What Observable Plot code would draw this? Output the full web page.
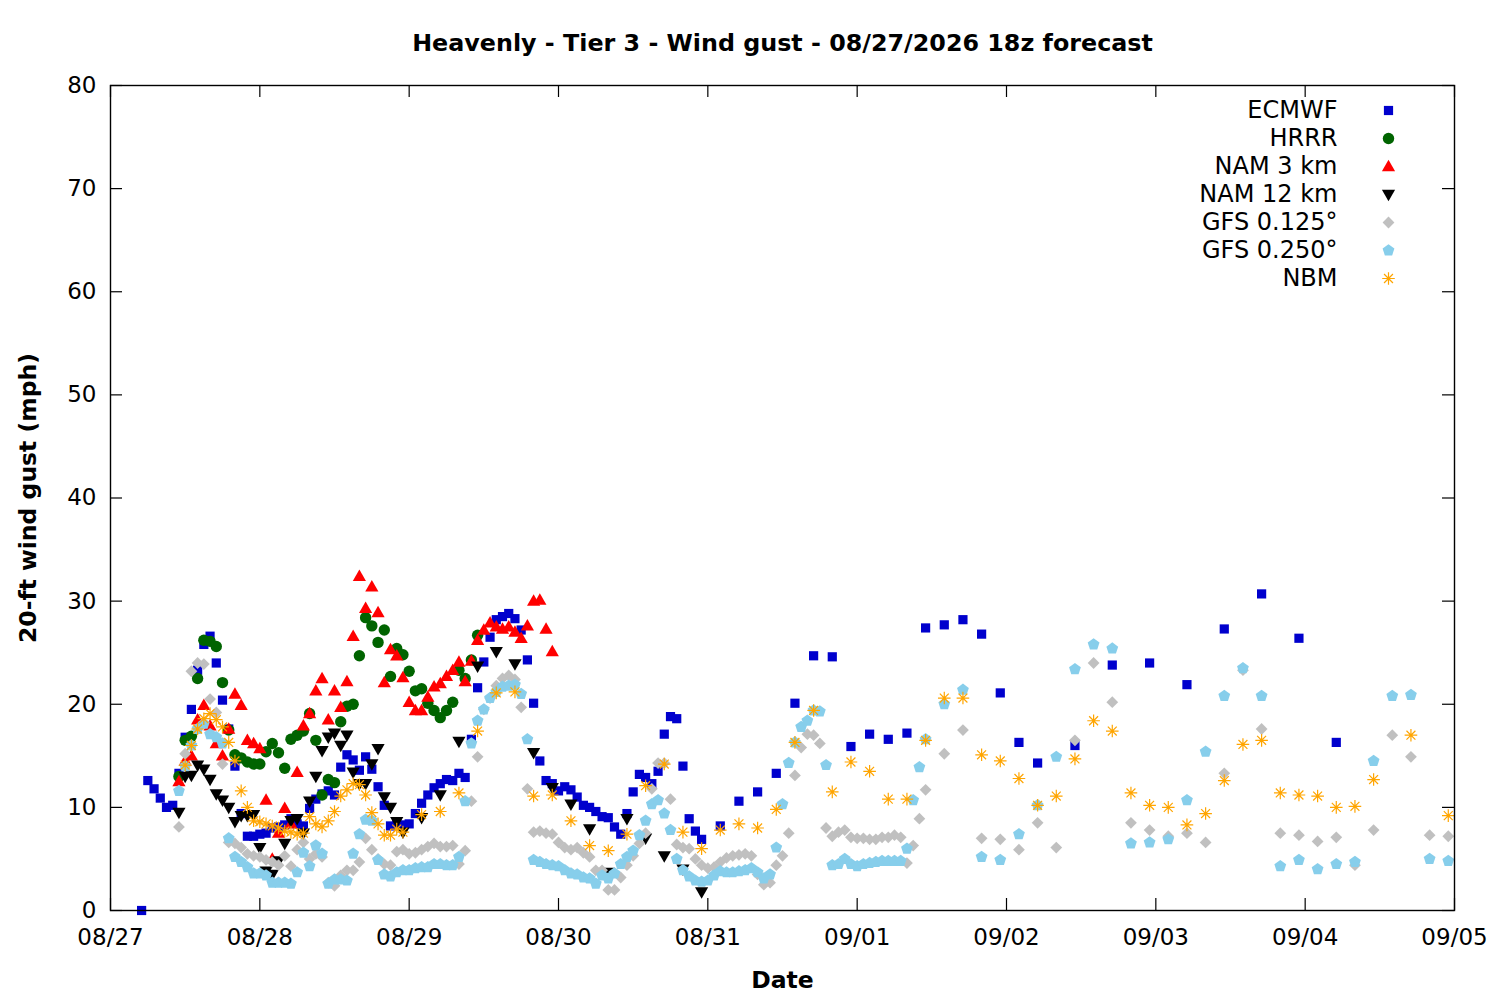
<!DOCTYPE html>
<html><head><meta charset="utf-8">
<script src="https://cdn.jsdelivr.net/npm/d3@7"></script>
<script src="https://cdn.jsdelivr.net/npm/@observablehq/plot@0.6"></script>
<style>body{margin:0;background:#fff;} #chart svg{display:block;}</style>
</head><body><div id="chart"></div>
<script>
// ---- data (hours after 08/27 00:00, gust in mph) ----
const ecmwfHours = [5,6,7,8,9,10,11,12,13,14,15,16,17,18,19,20,21,22,23,24,25,26,27,28,29,30,31,32,33,34,35,36,37,38,39,40,41,42,43,44,45,46,47,48,49,50,51,52,53,54,55,56,57,58,59,60,61,62,63,64,65,66,67,68,69,70,71,72,73,74,75,76,77,78,79,80,81,82,83,84,85,86,87,88,89,90,91,92,93,94,95,98,101,104,107,110,113,116,119,122,125,128,131,134,137,140,143,146,149,155,161,167,173,179,185,191,197];
const ecmwfGust = [0,12.6,11.8,10.9,10.0,10.2,13.3,16.8,19.5,23.3,25.8,26.6,24.0,20.4,17.6,14.0,9.4,7.2,7.2,7.4,7.5,8.0,8.1,8.3,8.9,8.4,8.2,9.9,10.8,11.3,11.6,11.2,13.9,15.1,14.6,13.6,14.9,13.7,12.0,10.2,8.2,8.4,8.3,8.4,9.4,10.4,11.2,11.9,12.3,12.7,12.6,13.3,12.9,16.6,21.6,24.1,26.5,28.2,28.5,28.8,28.3,27.2,24.3,20.1,14.5,12.6,12.3,11.6,12.0,11.7,11.0,10.2,10.0,9.6,9.1,9.0,8.1,7.4,9.4,11.5,13.2,12.9,12.3,13.5,17.1,18.8,18.6,14.0,8.9,7.7,6.9,8.2,10.6,11.5,13.3,20.1,24.7,24.6,15.9,17.1,16.6,17.2,27.4,27.7,28.2,26.8,21.1,16.3,14.3,16.0,23.8,24.0,21.9,27.3,30.7,26.4,16.3];

const hrrrHours = [11,12,13,14,15,16,17,18,19,20,21,22,23,24,25,26,27,28,29,30,31,32,33,34,35,36,37,38,39,40,41,42,43,44,45,46,47,48,49,50,51,52,53,54,55,56,57,58,59];
const hrrrGust = [13.0,16.5,16.9,22.5,26.2,26.1,25.6,22.1,17.5,15.1,14.8,14.4,14.2,14.2,15.4,16.2,15.3,13.8,16.6,17.0,17.4,19.1,16.5,11.2,12.7,12.4,18.3,19.8,20.0,24.7,28.4,27.6,26.0,27.2,22.7,25.4,24.8,23.2,21.3,21.5,20.1,19.4,18.7,19.4,20.2,23.3,22.5,24.3,26.7];

const nam3Hours = [11,12,13,14,15,16,17,18,19,20,21,22,23,24,25,26,27,28,29,30,31,32,33,34,35,36,37,38,39,40,41,42,43,44,45,46,47,48,49,50,51,52,53,54,55,56,57,58,59,60,61,62,63,64,65,66,67,68,69,70,71];
const nam3Gust = [12.5,14.5,15.0,18.5,19.9,17.9,16.2,15.0,17.6,21.0,19.9,16.5,16.2,15.7,10.7,5.0,7.5,9.9,8.4,13.4,17.9,19.1,21.3,22.5,18.5,21.3,19.7,22.2,26.6,32.4,29.3,31.4,28.9,22.1,25.3,24.7,22.6,20.2,19.4,19.4,20.7,21.7,22.0,22.7,23.3,24.1,22.2,24.2,26.2,27.2,27.9,27.5,27.3,27.5,27.0,26.4,27.6,30.0,30.1,27.3,25.1];

const nam12Hours = [11,12,13,14,15,16,17,18,19,20,21,22,23,24,25,26,27,28,29,30,31,32,33,34,35,36,37,38,39,40,41,42,43,44,45,46,47,50,53,56,59,62,65,68,71,74,77,80,83,86,89,92,95];
const nam12Gust = [9.5,13.0,13.1,14.1,13.7,12.7,11.3,10.7,10.0,8.6,9.2,9.2,9.3,6.1,3.8,3.5,4.8,6.5,8.7,8.9,7.5,10.6,13.0,15.5,16.8,17.2,16.0,17.0,13.4,12.3,12.3,14.2,15.7,11.0,10.0,8.6,7.6,9.0,11.2,16.4,23.7,25.1,23.9,15.3,11.9,10.3,7.9,3.7,8.9,7.0,5.3,4.0,1.8];

const gfs125Hours = [11,12,13,14,15,16,17,18,19,20,21,22,23,24,25,26,27,28,29,30,31,32,33,34,35,36,37,38,39,40,41,42,43,44,45,46,47,48,49,50,51,52,53,54,55,56,57,58,59,60,61,62,63,64,65,66,67,68,69,70,71,72,73,74,75,76,77,78,79,80,81,82,83,84,85,86,87,88,89,90,91,92,93,94,95,96,97,98,99,100,101,102,103,104,105,106,107,108,109,110,111,112,113,114,115,116,117,118,119,120,121,122,123,124,125,126,127,128,129,130,131,134,137,140,143,146,149,152,155,158,161,164,167,170,173,176,179,182,185,188,191,194,197,200,203,206,209,212,215];
const gfs125Gust = [8.1,15.2,23.2,24.0,23.9,20.5,19.2,14.2,6.6,6.5,6.1,5.5,5.3,5.2,4.9,4.7,4.4,5.3,4.3,5.9,6.6,5.0,5.5,5.2,2.7,2.4,3.4,3.9,3.9,4.7,7.0,5.9,5.0,4.5,4.4,5.7,5.9,5.5,5.6,5.9,6.2,6.5,6.2,6.2,6.3,4.5,5.8,10.6,14.9,19.5,20.6,21.8,22.5,22.8,22.4,19.7,11.8,7.6,7.7,7.5,7.4,6.6,6.1,5.9,6.1,5.6,5.2,3.9,3.9,2.0,2.0,3.2,4.4,5.3,6.5,7.5,11.8,14.3,14.3,10.8,6.4,6.1,6.0,5.0,4.4,4.1,4.2,4.7,5.1,5.3,5.4,5.5,5.3,3.5,2.5,2.7,4.4,5.3,7.5,13.1,15.8,17.1,17.0,16.2,8.0,7.2,7.6,7.8,7.1,7.0,7.0,6.9,6.9,7.1,7.1,7.3,7.1,4.6,6.3,8.9,11.7,15.2,17.5,7.0,6.9,5.9,8.5,6.1,16.5,24.0,20.2,8.5,7.8,7.2,7.5,6.6,13.3,23.3,17.6,7.5,7.3,6.7,7.1,4.4,7.8,17.0,14.9,7.3,7.2];

const gfs250Hours = [11,12,13,14,15,16,17,18,19,20,21,22,23,24,25,26,27,28,29,30,31,32,33,34,35,36,37,38,39,40,41,42,43,44,45,46,47,48,49,50,51,52,53,54,55,56,57,58,59,60,61,62,63,64,65,66,67,68,69,70,71,72,73,74,75,76,77,78,79,80,81,82,83,84,85,86,87,88,89,90,91,92,93,94,95,96,97,98,99,100,101,102,103,104,105,106,107,108,109,110,111,112,113,114,115,116,117,118,119,120,121,122,123,124,125,126,127,128,129,130,131,134,137,140,143,146,149,152,155,158,161,164,167,170,173,176,179,182,185,188,191,194,197,200,203,206,209,212,215];
const gfs250Gust = [11.6,14.0,16.0,17.6,18.1,17.1,16.8,16.2,7.0,5.2,4.7,4.2,3.6,3.6,3.4,2.7,2.7,2.7,2.6,3.7,5.6,4.3,6.3,5.5,2.6,3.0,3.0,2.9,5.5,7.4,8.8,8.7,4.9,3.5,3.3,3.7,3.9,3.9,4.1,4.2,4.2,4.5,4.5,4.4,4.4,5.2,10.6,16.2,18.4,19.5,20.6,21.2,21.7,21.8,21.9,21.0,16.6,4.9,4.7,4.5,4.4,4.3,3.9,3.6,3.5,3.2,3.1,2.6,3.4,3.1,3.6,4.5,5.2,5.8,7.3,8.7,10.3,10.7,9.4,7.8,5.0,3.9,3.3,2.9,2.8,2.9,3.4,3.8,3.7,3.7,3.8,3.9,4.1,3.7,3.1,3.5,6.1,10.3,14.3,16.3,17.8,18.4,19.4,19.3,14.1,4.4,4.5,5.0,4.5,4.3,4.5,4.6,4.7,4.8,4.8,4.8,4.8,6.0,10.7,13.9,16.6,20.0,21.4,5.2,4.9,7.4,10.2,14.9,23.4,25.8,25.4,6.5,6.6,6.9,10.7,15.4,20.8,23.5,20.8,4.3,4.9,4.0,4.5,4.7,14.5,20.8,20.9,5.0,4.8];

const nbmHours = [12,13,14,15,16,17,18,19,20,21,22,23,24,25,26,27,28,29,30,31,32,33,34,35,36,37,38,39,40,41,42,43,44,45,46,47,50,53,56,59,62,65,68,71,74,77,80,83,86,89,92,95,98,101,104,107,110,113,116,119,122,125,128,131,134,137,140,143,146,149,152,155,158,161,164,167,170,173,176,179,182,185,188,191,194,197,200,203,209,215];
const nbmGust = [14.1,16.0,17.6,18.6,19.1,18.5,17.8,16.3,14.5,11.6,10.0,8.7,8.6,8.4,8.2,8.0,7.7,7.6,7.4,7.5,9.1,8.4,8.1,8.7,9.6,11.1,11.7,12.3,12.2,11.2,9.5,8.4,7.3,7.3,7.9,7.6,9.3,9.6,11.4,17.4,21.1,21.2,11.1,11.2,8.7,6.3,5.8,7.4,12.1,14.2,7.6,6.0,7.8,8.4,8.0,9.8,16.3,19.4,11.5,14.4,13.5,10.8,10.8,16.5,20.6,20.6,15.1,14.5,12.8,10.2,11.1,14.7,18.4,17.4,11.4,10.2,10.0,8.3,9.4,12.6,16.1,16.5,11.4,11.2,11.1,10.0,10.1,12.7,17.0,9.2];

const seriesNames = ["ECMWF","HRRR","NAM 3 km","NAM 12 km","GFS 0.125°","GFS 0.250°","NBM"];
const dayTicks = ["08/27","08/28","08/29","08/30","08/31","09/01","09/02","09/03","09/04","09/05"];
const yTicks = [0,10,20,30,40,50,60,70,80];
const titleText = "Heavenly - Tier 3 - Wind gust - 08/27/2026 18z forecast";

// ---- helpers ----
const t0 = Date.UTC(2026,7,27);
const toDate = h => new Date(t0 + h*3600e3);
const dayDates = dayTicks.map(s => { const [m,d] = s.split("/").map(Number); return new Date(Date.UTC(2026, m-1, d)); });

const poly = pts => ({draw(c){ c.moveTo(pts[0][0], pts[0][1]); for (let i=1;i<pts.length;i++) c.lineTo(pts[i][0], pts[i][1]); c.closePath(); }});
const squareSym = {draw(c){ c.rect(-4.6,-4.6,9.2,9.2); }};
const circleSym = {draw(c){ c.moveTo(5.7,0); c.arc(0,0,5.7,0,2*Math.PI); }};
const triUp = poly([[0,-6.8],[6.6,4.7],[-6.6,4.7]]);
const triDown = poly([[0,6.8],[6.6,-4.7],[-6.6,-4.7]]);
const diamondSym = poly([[0,-5.9],[5.9,0],[0,5.9],[-5.9,0]]);
const pentSym = poly(d3.range(5).map(k => { const a = -Math.PI/2 + k*2*Math.PI/5; return [6.2*Math.cos(a), 6.2*Math.sin(a)]; }));
const asteriskSym = {draw(c){ const r = 6.3; for (let k=0;k<4;k++){ const a = k*Math.PI/4; c.moveTo(r*Math.cos(a), r*Math.sin(a)); c.lineTo(-r*Math.cos(a), -r*Math.sin(a)); } }};

const series = [
  {hours: ecmwfHours, gust: ecmwfGust, symbol: squareSym, color: "#0000cd", filled: true},
  {hours: hrrrHours, gust: hrrrGust, symbol: circleSym, color: "#006400", filled: true},
  {hours: nam3Hours, gust: nam3Gust, symbol: triUp, color: "#ff0000", filled: true},
  {hours: nam12Hours, gust: nam12Gust, symbol: triDown, color: "#000000", filled: true},
  {hours: gfs125Hours, gust: gfs125Gust, symbol: diamondSym, color: "#c0c0c0", filled: true},
  {hours: gfs250Hours, gust: gfs250Gust, symbol: pentSym, color: "#87ceeb", filled: true},
  {hours: nbmHours, gust: nbmGust, symbol: asteriskSym, color: "#ffa500", filled: false}
].map((s,i) => ({...s, name: seriesNames[i]}));

const W = 1500, H = 1000, mL = 110, mR = 46, mT = 85, mB = 90;
const fw = W - mL - mR, fh = H - mT - mB;
const FONT = "DejaVu Sans";

const styleOf = s => s.filled ? {fill: s.color, stroke: "none"} : {fill: "none", stroke: s.color, strokeWidth: 1.2};

const marks = [];
series.forEach(s => {
  const rows = s.hours.map((h,i) => ({t: toDate(h), v: s.gust[i]}));
  marks.push(Plot.dot(rows, {x: "t", y: "v", symbol: s.symbol, ...styleOf(s)}));
});
// legend
series.forEach((s,i) => {
  marks.push(Plot.text([s.name], {text: d => d, frameAnchor: "top-right", dx: -117, dy: 25 + 28*i, textAnchor: "end", lineAnchor: "middle", fontSize: 24, fontFamily: FONT, fill: "black"}));
  marks.push(Plot.dot([s.name], {frameAnchor: "top-right", dx: -66, dy: 25 + 28*i, symbol: s.symbol, ...styleOf(s)}));
});
// axes
marks.push(
  Plot.axisY({ticks: yTicks, tickSize: 0, tickPadding: 14, label: null, fontSize: 23, fontFamily: FONT}),
  Plot.axisX({ticks: dayDates, tickFormat: d3.utcFormat("%m/%d"), tickSize: 0, tickPadding: 18, label: null, fontSize: 23, fontFamily: FONT}),
  Plot.tickY(yTicks, {y: d => d, insetRight: fw - 12, stroke: "black", strokeWidth: 1.2}),
  Plot.tickY(yTicks, {y: d => d, insetLeft: fw - 12, stroke: "black", strokeWidth: 1.2}),
  Plot.tickX(dayDates, {x: d => d, insetTop: fh - 12, stroke: "black", strokeWidth: 1.2}),
  Plot.tickX(dayDates, {x: d => d, insetBottom: fh - 12, stroke: "black", strokeWidth: 1.2}),
  Plot.frame({stroke: "black", strokeWidth: 1.4}),
  Plot.text([titleText], {text: d => d, frameAnchor: "top", dy: -42, lineAnchor: "middle", fontSize: 23.8, fontWeight: "bold", fontFamily: FONT, fill: "black"}),
  Plot.text(["Date"], {text: d => d, frameAnchor: "bottom", dy: 70, lineAnchor: "middle", fontSize: 23.5, fontWeight: "bold", fontFamily: FONT, fill: "black"}),
  Plot.text(["20-ft wind gust (mph)"], {text: d => d, frameAnchor: "left", dx: -82, rotate: -90, lineAnchor: "middle", textAnchor: "middle", fontSize: 23.5, fontWeight: "bold", fontFamily: FONT, fill: "black"})
);

const chart = Plot.plot({
  width: W, height: H,
  marginLeft: mL, marginRight: mR, marginTop: mT, marginBottom: mB,
  style: {fontFamily: FONT, fontSize: "23px", background: "white", color: "black"},
  x: {type: "utc", domain: [dayDates[0], dayDates[dayDates.length-1]]},
  y: {domain: [0, 80]},
  marks
});
document.getElementById("chart").appendChild(chart);
</script></body></html>
